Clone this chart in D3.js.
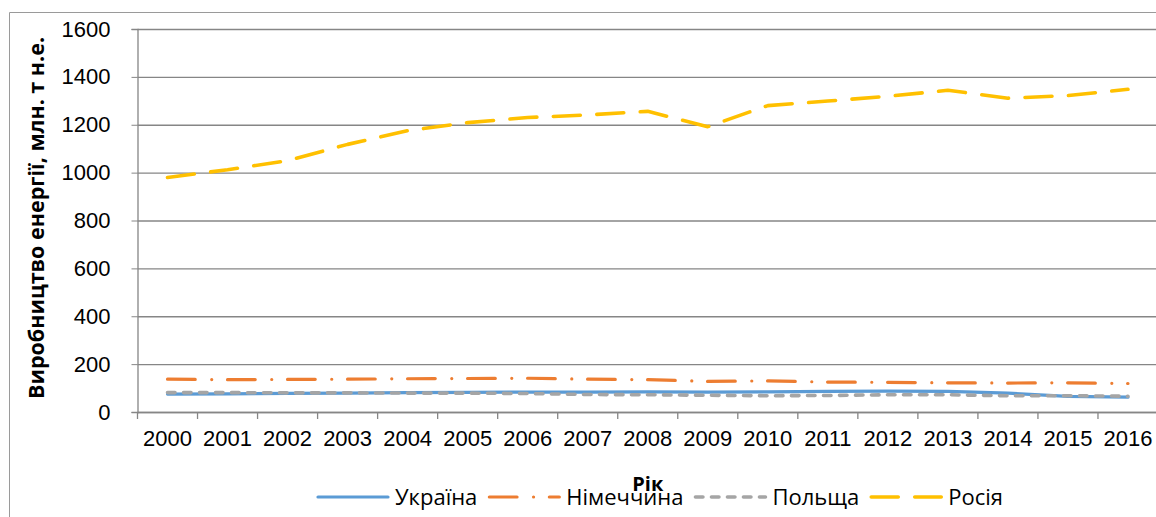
<!DOCTYPE html>
<html lang="uk">
<head>
<meta charset="UTF-8">
<script src="https://d3js.org/d3.v7.min.js"></script>
<style>
  body { margin: 0; background: #fff; }
  svg { font-family: "Open Sans", "Liberation Sans", sans-serif; }
  .tick text { font-size: 22px; fill: #000; }
</style>
</head>
<body>
<svg width="1156" height="517"></svg>
<script>
// data
var years = ['2000','2001','2002','2003','2004','2005','2006','2007','2008',
             '2009','2010','2011','2012','2013','2014','2015','2016'];
var ukraine = [75, 76, 78, 79, 81, 82, 83, 83, 84, 83, 84, 86, 87, 86, 79, 65, 62];
var germany = [137, 135, 136, 137, 139, 140, 141, 137, 135, 128, 130, 125, 124, 122, 121, 122, 119];
var poland  = [81, 81, 80, 80, 79, 79, 77, 73, 72, 70, 68, 69, 72, 72, 68, 68, 66];
var russia  = [980, 1012, 1050, 1118, 1175, 1209, 1230, 1241, 1256, 1192, 1280, 1299, 1319, 1344, 1311, 1322, 1348];
var yTicks = [0, 200, 400, 600, 800, 1000, 1200, 1400, 1600];

var series = [
  {name: 'Україна',   values: ukraine, color: '#5B9BD5', dash: null,                 width: 3.2},
  {name: 'Німеччина', values: germany, color: '#ED7D31', dash: '27.7,16.5,0.01,15.8', width: 3.2},
  {name: 'Польща',    values: poland,  color: '#A5A5A5', dash: '7.5,8.5',             width: 3.6},
  {name: 'Росія',     values: russia,  color: '#FFC000', dash: '27,16.5',             width: 3.6}
];

var svg = d3.select('svg');
var plotLeft = 137.5, plotRight = 1158, plotTop = 29, plotBottom = 412;

// outer chart frame
svg.append('path')
  .attr('d', 'M9.5,517 V12.5 H1156')
  .attr('fill', 'none')
  .attr('stroke', '#9a9a9a')
  .attr('stroke-width', 1);

var x = d3.scaleBand().domain(years).range([plotLeft, plotRight]);
var y = d3.scaleLinear().domain([0, 1600]).range([plotBottom, plotTop]);

// gridlines
svg.append('g')
  .attr('transform', 'translate(' + plotLeft + ',0)')
  .call(d3.axisLeft(y).tickValues(yTicks).tickSize(-(plotRight - plotLeft)).tickFormat(''))
  .call(g => g.select('.domain').remove())
  .call(g => g.selectAll('line').attr('stroke', '#868686').attr('stroke-width', 1.3));

// y axis
svg.append('g')
  .attr('transform', 'translate(' + plotLeft + ',0)')
  .call(d3.axisLeft(y).tickValues(yTicks).tickSize(6).tickPadding(21).tickFormat(d3.format('d')))
  .call(g => g.select('.domain').attr('stroke', '#868686').attr('stroke-width', 1.3))
  .call(g => g.selectAll('line').attr('stroke', '#868686'));

// x axis: labels at the centres, ticks between the categories
svg.append('g')
  .attr('transform', 'translate(0,' + plotBottom + ')')
  .call(d3.axisBottom(x).tickSize(0).tickPadding(18))
  .call(g => g.select('.domain').attr('stroke', '#868686').attr('stroke-width', 1.3));

svg.append('g')
  .selectAll('line')
  .data(years.concat(['end']))
  .enter()
  .append('line')
  .attr('x1', d => d == 'end' ? plotRight : x(d))
  .attr('x2', d => d == 'end' ? plotRight : x(d))
  .attr('y1', plotBottom)
  .attr('y2', plotBottom + 7)
  .attr('stroke', '#868686')
  .attr('stroke-width', 1.3);

// lines
var line = d3.line()
  .x((d, i) => x(years[i]) + x.bandwidth() / 2)
  .y(d => y(d));

svg.append('g')
  .selectAll('path')
  .data(series)
  .enter()
  .append('path')
  .attr('d', d => line(d.values))
  .attr('fill', 'none')
  .attr('stroke', d => d.color)
  .attr('stroke-width', d => d.width)
  .attr('stroke-dasharray', d => d.dash)
  .attr('stroke-linecap', 'round')
  .attr('stroke-linejoin', 'round');

// axis titles
svg.append('text')
  .attr('transform', 'translate(44,218) rotate(-90)')
  .attr('text-anchor', 'middle')
  .style('font-size', '21.5px')
  .style('font-weight', 'bold')
  .text('Виробництво енергії, млн. т н.е.');

svg.append('text')
  .attr('x', (plotLeft + plotRight) / 2)
  .attr('y', 491)
  .attr('text-anchor', 'middle')
  .style('font-size', '20px')
  .style('font-weight', 'bold')
  .text('Рік');

// legend
var lx = 318;
var legend = svg.append('g');
series.forEach(function (s) {
  legend.append('line')
    .attr('x1', lx).attr('x2', lx + 70)
    .attr('y1', 497).attr('y2', 497)
    .attr('stroke', s.color)
    .attr('stroke-width', s.width)
    .attr('stroke-dasharray', s.dash)
    .attr('stroke-linecap', 'round');
  var t = legend.append('text')
    .attr('x', lx + 77)
    .attr('y', 505)
    .style('font-size', '22px')
    .text(s.name);
  lx = lx + 77 + t.node().getComputedTextLength() + 12;
});
</script>
</body>
</html>
